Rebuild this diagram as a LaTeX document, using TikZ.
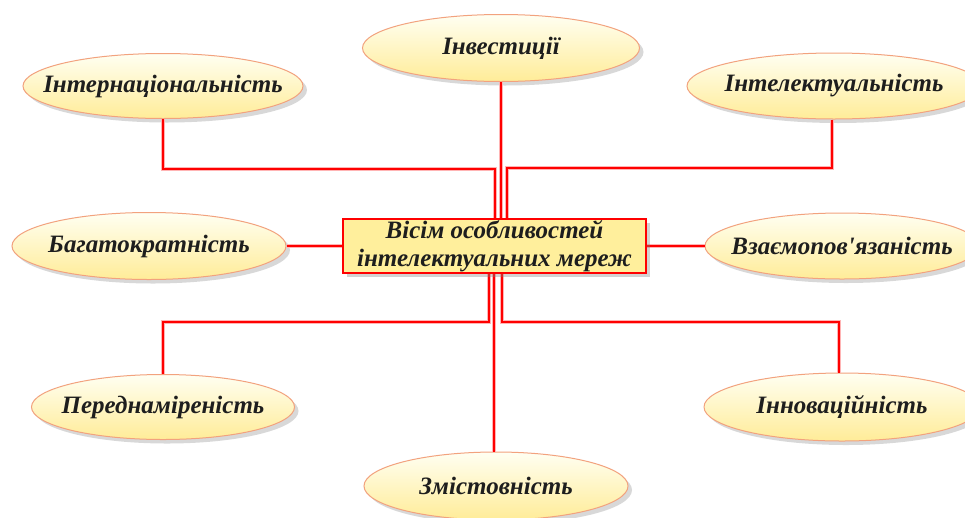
\documentclass[tikz,border=0pt]{standalone}
\usepackage{fontspec}
\setmainfont{Liberation Serif}
\newfontfamily\featfont{Liberation Serif}
\usetikzlibrary{shapes.geometric,shadows,calc}
\definecolor{ellborder}{HTML}{F2A27E}
\definecolor{elltop}{HTML}{FFFFF2}
\definecolor{ellbot}{HTML}{FFEC98}
\definecolor{boxfill}{HTML}{FFEF9C}
\definecolor{conred}{HTML}{FF0000}
\definecolor{halo}{HTML}{FFB4B4}
\definecolor{txt}{HTML}{1E1E1E}
\newcommand{\ftext}[1]{\makebox[0pt]{#1}}
\tikzset{
  feat/.style={ellipse, draw=ellborder, line width=1pt, top color=elltop, bottom color=ellbot,
    inner sep=0pt, text=txt,
    font=\featfont\fontsize{25}{29}\selectfont\bfseries\itshape,
    drop shadow={opacity=0.3, shadow xshift=4pt, shadow yshift=-4pt}},
  centerbox/.style={rectangle, draw=conred, line width=2.2pt, fill=boxfill, inner sep=0pt,
    minimum width=303pt, minimum height=54pt, align=center, text=txt,
    font=\featfont\fontsize{25}{28}\selectfont\bfseries\itshape,
    drop shadow={opacity=0.35, shadow xshift=4pt, shadow yshift=-4pt}},
  conn/.style={draw=conred, line width=2.6pt, line join=miter,
    preaction={draw=halo, line width=4.6pt}}
}
\begin{document}
\begin{tikzpicture}[x=1pt,y=-1pt]
\useasboundingbox (0,0) rectangle (965,517);
\fill[white] (0,0) rectangle (965,517);
\coordinate (tl) at (495,169);
\coordinate (tr) at (507,168);
\coordinate (bl) at (489,322);
\coordinate (br) at (502,322);
\node[feat, minimum width=280pt, minimum height=65pt] (intl) at (163,86) {\ftext{Інтернаціональність}};
\node[feat, minimum width=277pt, minimum height=67pt] (inv) at (501,48) {\ftext{Інвестиції}};
\node[feat, minimum width=294pt, minimum height=66pt] (intel) at (834,86) {\ftext{Інтелектуальність}};
\node[feat, minimum width=274pt, minimum height=67pt] (bag) at (149,246) {\ftext{Багатократність}};
\node[feat, minimum width=274pt, minimum height=66pt] (vza) at (842,246) {\ftext{Взаємопов'язаність}};
\node[feat, minimum width=263pt, minimum height=65pt] (pered) at (163,407) {\ftext{Переднаміреність}};
\node[feat, minimum width=276pt, minimum height=68pt] (innov) at (842,407) {\ftext{Інноваційність}};
\node[feat, minimum width=264pt, minimum height=68pt] (zmist) at (496,486) {\ftext{Змістовність}};
\draw[conn] (intl.south) |- (tl) -- (tl |- 0,219);
\draw[conn] ([xshift=-2pt]intel.south) |- (tr) -- (tr |- 0,219);
\draw[conn] (inv.south) -- (inv.south |- 0,219);
\draw[conn] (bag.east) -- (343,246);
\draw[conn] (646,246) -- (vza.west);
\draw[conn] (pered.north) |- (bl) -- (bl |- 0,273);
\draw[conn] ([xshift=-3pt]innov.north) |- (br) -- (br |- 0,273);
\draw[conn] ([xshift=-2pt]zmist.north) -- ([xshift=-2pt]zmist.north |- 0,273);
\node[centerbox] (box) at (494.5,246) {Вісім особливостей\\інтелектуальних мереж};
\end{tikzpicture}
\end{document}
